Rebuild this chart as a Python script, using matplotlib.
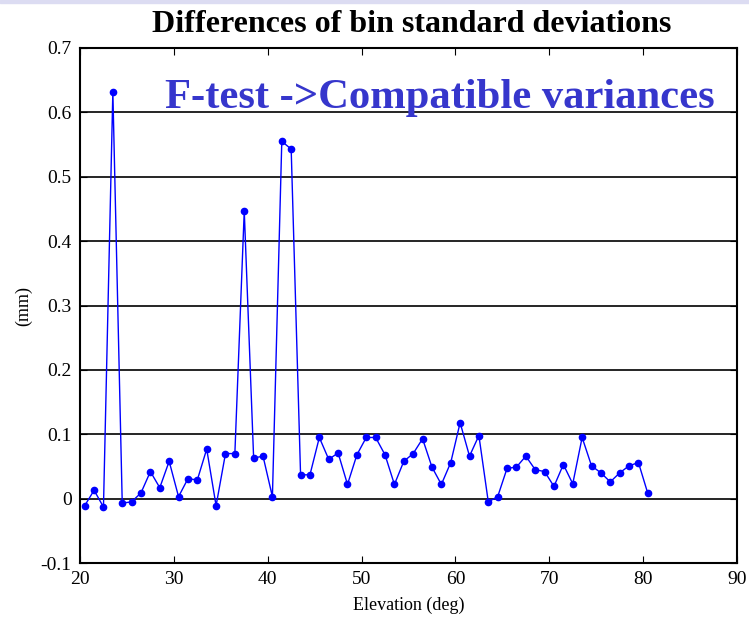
import matplotlib
matplotlib.use("Agg")
from matplotlib import pyplot as plt
import numpy as np

plt.rcParams['font.family'] = ['Liberation Serif', 'DejaVu Serif']

# bin centres (deg) and differences of std devs (mm)
elevation = np.arange(20.5, 81.0, 1.0)
diff = [
    -0.011, 0.013, -0.013, 0.632, -0.007, -0.005, 0.009, 0.042, 0.017, 0.058,
    0.003, 0.031, 0.029, 0.077, -0.011, 0.070, 0.070, 0.447, 0.063, 0.066,
    0.003, 0.555, 0.543, 0.037, 0.037, 0.095, 0.061, 0.071, 0.022, 0.068,
    0.095, 0.095, 0.068, 0.022, 0.058, 0.070, 0.093, 0.049, 0.022, 0.056,
    0.118, 0.066, 0.098, -0.005, 0.003, 0.047, 0.049, 0.066, 0.045, 0.042,
    0.019, 0.053, 0.023, 0.095, 0.051, 0.040, 0.026, 0.040, 0.051, 0.056,
    0.008,
]
ytick_labels = ['-0.1', '0', '0.1', '0.2', '0.3', '0.4', '0.5', '0.6', '0.7']

fig = plt.figure(figsize=(7.49, 6.18), dpi=100)
# thin lavender strip along the top edge
fig.patches.append(plt.Rectangle((0, 1 - 3/618), 1, 3/618, transform=fig.transFigure,
                                 color='#DCDCF2', zorder=0))

ax = fig.add_axes([80/749, 1 - 563/618, (737-80)/749, (563-48)/618])

# horizontal grid at major ticks
for yv in np.arange(0, 0.71, 0.1):
    ax.axhline(yv, color='black', lw=1.2, zorder=1)

ax.plot(elevation, diff, color='#0000FF', lw=1.0, marker='o', ms=4.5, zorder=3)

ax.set_xlim(20, 90)
ax.set_ylim(-0.1, 0.7)
ax.set_xticks(range(20, 91, 10))
ax.set_yticks(np.arange(-0.1, 0.71, 0.1))
ax.set_yticklabels(ytick_labels)
ax.tick_params(direction='in', top=True, right=True, labelsize=14, length=5, pad=6)
for s in ax.spines.values():
    s.set_linewidth(1.5)

ax.set_xlabel('Elevation (deg)', fontsize=13, labelpad=6)
ax.set_ylabel('(mm)', fontsize=13, labelpad=6)

fig.text(412/749, 1 - 25/618, 'Differences of bin standard deviations',
         ha='center', va='center', fontsize=23, fontweight='bold')
fig.text(165/749, 1 - 108/618, 'F-test ->Compatible variances',
         fontsize=30.7, fontweight='bold', color='#3636CC', ha='left', va='baseline')

fig.savefig('out.png', dpi=100)
